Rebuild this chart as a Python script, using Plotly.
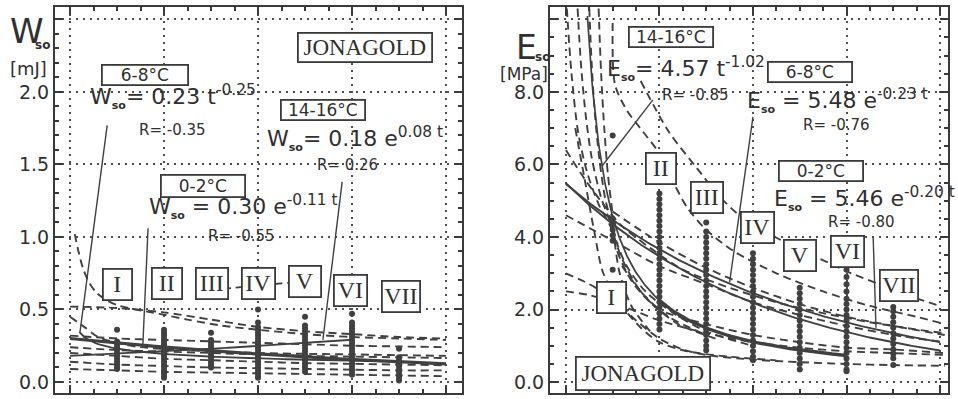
import numpy as np
import plotly.graph_objects as go

W, H = 958, 399
INK = "#404040"
TXT = "#303030"
SANS = "DejaVu Sans"
SERIF = "Liberation Serif"

# storage intervals
groups = ["I", "II", "III", "IV", "V", "VI", "VII"]
t_groups = [1, 2, 3, 4, 5, 6, 7]

# ---- W_so measurements [mJ] per interval ----
w_I = [0.36, 0.28, 0.26, 0.24, 0.22, 0.20, 0.18, 0.16, 0.14, 0.12, 0.10, 0.09]
w_II = [0.36, 0.34, 0.32, 0.30, 0.28, 0.26, 0.24, 0.22, 0.20, 0.18, 0.16, 0.14,
        0.12, 0.10, 0.08, 0.06, 0.04, 0.03]
w_III = [0.34, 0.29, 0.27, 0.25, 0.23, 0.21, 0.19, 0.17, 0.15, 0.13, 0.11, 0.10]
w_IV = [0.50, 0.41, 0.38, 0.36, 0.34, 0.32, 0.30, 0.28, 0.26, 0.24, 0.22, 0.20,
        0.18, 0.16, 0.14, 0.12, 0.10, 0.08, 0.06, 0.04, 0.03]
w_V = [0.45, 0.39, 0.37, 0.35, 0.33, 0.31, 0.29, 0.27, 0.25, 0.23, 0.21, 0.19,
       0.17, 0.15, 0.13, 0.11, 0.09, 0.07]
w_VI = [0.47, 0.41, 0.39, 0.37, 0.35, 0.33, 0.31, 0.29, 0.27, 0.25, 0.23, 0.21,
        0.19, 0.17, 0.15, 0.13, 0.11, 0.09, 0.07, 0.05]
w_VII = [0.23, 0.17, 0.15, 0.13, 0.11, 0.09, 0.07, 0.05, 0.03, 0.01]
w_points = [w_I, w_II, w_III, w_IV, w_V, w_VI, w_VII]

# ---- E_so measurements [MPa] per interval ----
e_I = [6.8, 4.5, 4.35, 4.2, 4.05, 3.9, 3.1]
e_II = [5.2, 5.05, 4.9, 4.75, 4.6, 4.45, 4.3, 4.15, 4.0, 3.85, 3.7, 3.55, 3.4,
        3.25, 3.1, 2.95, 2.8, 2.65, 2.5, 2.35, 2.2, 2.05, 1.9, 1.75, 1.6, 1.45]
e_III = [4.4, 4.15, 4.0, 3.85, 3.7, 3.55, 3.4, 3.25, 3.1, 2.95, 2.8, 2.65, 2.5,
         2.35, 2.2, 2.05, 1.9, 1.75, 1.6, 1.45, 1.3, 1.15, 1.0, 0.88]
e_IV = [3.55, 3.4, 3.25, 3.1, 2.95, 2.8, 2.65, 2.5, 2.35, 2.2, 2.05, 1.9, 1.75,
        1.6, 1.45, 1.3, 1.15, 1.0, 0.85, 0.7, 0.6]
e_V = [2.6, 2.45, 2.3, 2.15, 2.0, 1.85, 1.7, 1.55, 1.4, 1.25, 1.1, 0.95, 0.8,
       0.65, 0.5, 0.35]
e_VI = [3.1, 2.9, 2.7, 2.5, 2.3, 2.15, 2.0, 1.85, 1.7, 1.55, 1.4, 1.25, 1.1,
        0.95, 0.8, 0.65, 0.5, 0.35, 0.3]
e_VII = [2.07, 1.95, 1.8, 1.65, 1.5, 1.35, 1.2, 1.05, 0.9, 0.78, 0.66, 0.47]
e_points = [e_I, e_II, e_III, e_IV, e_V, e_VI, e_VII]

# ---- fitted models (coefficients as printed) ----
# W_so: 0-2 °C exponential, 6-8 °C power, 14-16 °C exponential
w_fit_02 = [0.30, -0.11]
w_fit_68 = [0.23, -0.25]
w_fit_1416 = [0.18, 0.08]
# E_so: 14-16 °C power, 6-8 °C exponential, 0-2 °C exponential
e_fit_1416 = [4.57, -1.02]
e_fit_68 = [5.48, -0.23]
e_fit_02 = [5.46, -0.20]

# ---- individual (per-sample) fitted curves, W_so ----
w_ind = [
    ([0.10, 0.18, 0.28, 0.40, 0.55, 0.75, 1.0, 1.4, 1.9, 2.5, 3.2, 4.0, 5.0, 6.0, 7.0, 8.0],
     [1.02, 0.90, 0.78, 0.69, 0.62, 0.57, 0.53, 0.50, 0.47, 0.43, 0.39, 0.36, 0.33, 0.31, 0.30, 0.29]),
    ([0, 1, 2, 3, 4, 5, 6, 7, 8],
     [0.52, 0.51, 0.48, 0.43, 0.38, 0.35, 0.33, 0.31, 0.30]),
    ([0, 1, 2, 3, 4, 5, 6, 7, 8],
     [0.32, 0.30, 0.29, 0.28, 0.27, 0.26, 0.25, 0.245, 0.24]),
    ([0, 0.3, 0.6, 1.0, 1.5, 2.5, 4, 6, 8],
     [0.45, 0.38, 0.31, 0.27, 0.24, 0.22, 0.20, 0.19, 0.18]),
    ([0, 1, 2, 3, 4, 5, 6, 7, 8],
     [0.24, 0.22, 0.21, 0.20, 0.19, 0.18, 0.175, 0.17, 0.165]),
    ([0, 1, 2, 3, 4, 5, 6, 7, 8],
     [0.20, 0.18, 0.16, 0.15, 0.14, 0.13, 0.125, 0.12, 0.115]),
    ([0, 1, 2, 3, 4, 5, 6, 7, 8],
     [0.14, 0.12, 0.11, 0.10, 0.095, 0.09, 0.085, 0.08, 0.08]),
    ([0, 1, 2, 3, 4, 5, 6, 7, 8],
     [0.09, 0.08, 0.07, 0.065, 0.06, 0.055, 0.05, 0.045, 0.04]),
    ([2.7, 3.5, 4.5, 5.4],
     [0.62, 0.65, 0.68, 0.70]),
]

# ---- individual (per-sample) fitted curves, E_so ----
e_ind = [
    ([1.6, 2.2, 2.8, 3.3, 3.8, 4.4, 5.0, 5.6, 6.1, 6.7, 7.4, 8.0],
     [8.3, 6.9, 5.9, 5.1, 4.5, 4.05, 3.65, 3.3, 3.0, 2.7, 2.35, 2.1]),
    ([1.0, 1.05, 1.3, 1.65, 2.0, 2.3, 2.6, 3.0, 3.6, 4.5, 5.5, 6.5, 7.5, 8.1],
     [9.9, 8.2, 7.5, 6.9, 6.3, 5.5, 4.8, 4.2, 3.6, 3.0, 2.5, 2.1, 1.8, 1.6]),
    ([0.02, 0.12, 0.26, 0.45, 0.7, 0.95, 1.2, 1.6, 2.2, 3.0],
     [10.3, 8.5, 6.9, 5.8, 4.9, 4.3, 3.4, 2.5, 1.8, 1.3]),
    ([0.25, 0.32, 0.42, 0.55, 0.75, 0.95, 1.1, 1.4, 1.8, 2.4, 3.2],
     [10.3, 8.8, 7.4, 6.2, 5.1, 4.4, 3.6, 2.8, 2.2, 1.6, 1.2]),
    ([0.5, 0.55, 0.62, 0.72, 0.85, 1.0, 1.1, 1.3, 1.7, 2.3, 3.0, 4.0],
     [10.3, 8.8, 7.4, 6.1, 5.0, 4.3, 3.8, 3.2, 2.5, 1.9, 1.4, 1.0]),
    ([0.7, 0.75, 0.82, 0.9, 1.0, 1.05, 1.15, 1.4, 1.8],
     [10.3, 8.6, 7.0, 5.7, 4.6, 3.8, 3.0, 2.1, 1.4]),
    ([0, 0.4, 0.8, 1.2, 1.8, 2.5, 3.5, 4.5, 5.5, 6.5, 7.5, 8.1],
     [6.4, 5.6, 4.9, 4.3, 3.7, 3.1, 2.6, 2.2, 1.9, 1.65, 1.45, 1.35]),
    ([0, 1, 2, 3, 4, 5, 6, 7, 8.1],
     [4.6, 3.9, 3.2, 2.7, 2.2, 1.85, 1.55, 1.3, 1.1]),
    ([0, 0.5, 1, 1.5, 2, 2.5, 3, 4, 5, 6, 7, 8.1],
     [3.0, 2.7, 2.3, 1.7, 1.2, 0.9, 0.75, 0.62, 0.55, 0.5, 0.47, 0.45]),
    ([0, 0.5, 1.0, 1.5, 2.0, 3.0, 4.0, 5.0, 6.0, 7.0, 8.1],
     [2.5, 2.4, 2.2, 1.95, 1.7, 1.35, 1.1, 0.95, 0.85, 0.8, 0.75]),
    ([1.2, 1.6, 2, 3, 4, 5, 6, 7, 8.1],
     [3.2, 2.5, 2.0, 1.6, 1.3, 1.1, 0.95, 0.9, 0.8]),
    ([0.2, 0.4, 0.6, 0.8, 1.2, 1.6, 2.0, 2.6, 3.5, 4.5],
     [7.0, 5.6, 4.2, 3.0, 2.1, 1.5, 1.1, 0.85, 0.7, 0.6]),
    ([1, 2, 3, 4, 5, 6, 7, 8.1],
     [4.7, 3.85, 3.15, 2.6, 2.15, 1.8, 1.55, 1.3]),
]

fig = go.Figure()

DASH = "8px,5px"


def add_dashed(curves, xa, ya):
    for tt, vv in curves:
        fig.add_trace(go.Scatter(x=tt, y=vv, mode="lines", xaxis=xa, yaxis=ya,
                                 line=dict(color=INK, width=1.9, dash=DASH,
                                           shape="spline", smoothing=0.8),
                                 hoverinfo="skip", showlegend=False))


def add_solid(t, v, xa, ya, width=1.9):
    fig.add_trace(go.Scatter(x=t, y=v, mode="lines", xaxis=xa, yaxis=ya,
                             line=dict(color=INK, width=width),
                             hoverinfo="skip", showlegend=False))


def add_points(pts, xa, ya):
    for tg, vals in zip(t_groups, pts):
        fig.add_trace(go.Scatter(x=[tg] * len(vals), y=vals, mode="markers",
                                 xaxis=xa, yaxis=ya,
                                 marker=dict(color=INK, size=6),
                                 hoverinfo="skip", showlegend=False))


# ---------------- left panel: W_so ----------------
add_dashed(w_ind, "x", "y")
t = np.linspace(0, 8, 120)
add_solid(t, w_fit_02[0] * np.exp(w_fit_02[1] * t), "x", "y", 3.2)
t = np.linspace(0.2, 7, 120)
add_solid(t, w_fit_68[0] * t ** w_fit_68[1], "x", "y")
t = np.linspace(0, 6, 120)
add_solid(t, w_fit_1416[0] * np.exp(w_fit_1416[1] * t), "x", "y")
add_points(w_points, "x", "y")

# ---------------- right panel: E_so ----------------
add_dashed(e_ind, "x2", "y2")
t = np.linspace(0, 8, 120)
add_solid(t, e_fit_02[0] * np.exp(e_fit_02[1] * t), "x2", "y2")
add_solid(t, e_fit_68[0] * np.exp(e_fit_68[1] * t), "x2", "y2")
t = np.linspace(0.46, 2, 80)
add_solid(t, e_fit_1416[0] * t ** e_fit_1416[1], "x2", "y2", 1.7)
t = np.linspace(2, 6, 80)
add_solid(t, e_fit_1416[0] * t ** e_fit_1416[1], "x2", "y2", 3.4)
add_points(e_points, "x2", "y2")


# ---------------- axes ----------------
def px(x):
    return x / W


def py(y):
    return 1 - y / H


FRAME = "#3a3a3a"
common = dict(showline=True, linewidth=2.2, linecolor=FRAME, mirror="ticks",
              ticks="inside", tickcolor=FRAME, tickwidth=1.6, ticklen=8,
              showgrid=True, gridcolor="#4f4f4f", gridwidth=1.7,
              griddash="2px,5px", zeroline=False,
              tickfont=dict(family=SANS, size=19, color=TXT))


def minor(step):
    return dict(tickmode="linear", tick0=0, dtick=step, ticks="inside",
                ticklen=4, tickcolor=FRAME, showgrid=False)


fig.update_layout(
    width=W, height=H, margin=dict(l=0, r=0, t=0, b=0),
    paper_bgcolor="white", plot_bgcolor="white", showlegend=False,
    xaxis=dict(domain=[px(55), px(462)], range=[-0.32, 8.34], anchor="y",
               tickvals=[0, 2, 4, 6, 8], showticklabels=False,
               minor=minor(0.5), **common),
    yaxis=dict(domain=[py(393), py(7)], range=[-0.076, 2.586], anchor="x",
               tickvals=[0, 0.5, 1.0, 1.5, 2.0, 2.5],
               ticktext=["0.0", "0.5", "1.0", "1.5", "2.0", ""],
               minor=minor(0.1), **common),
    xaxis2=dict(domain=[px(550), px(948)], range=[-0.34, 8.17], anchor="y2",
                tickvals=[0, 2, 4, 6, 8], showticklabels=False,
                minor=minor(0.5), **common),
    yaxis2=dict(domain=[py(393), py(7)], range=[-0.30, 10.34], anchor="x2",
                tickvals=[0, 2, 4, 6, 8, 10],
                ticktext=["0.0", "2.0", "4.0", "6.0", "8.0", ""],
                minor=minor(0.5), **common),
)

# ---------------- callout lines ----------------
callouts = [
    ("x", "y", 0.79, 1.77, 0.21, 0.34),
    ("x", "y", 1.66, 1.06, 1.55, 0.26),
    ("x", "y", 5.79, 1.38, 5.38, 0.29),
    ("x2", "y2", 1.86, 7.78, 0.77, 5.95),
    ("x2", "y2", 4.0, 7.31, 3.5, 2.75),
    ("x2", "y2", 6.57, 4.0, 6.63, 1.5),
]
for xr, yr, x0, y0, x1, y1 in callouts:
    fig.add_shape(type="line", xref=xr, yref=yr, x0=x0, y0=y0, x1=x1, y1=y1,
                  line=dict(color=INK, width=1.4))

annotations = []


def text_at(x, y, text, size, family=SANS, xanchor="center", yanchor="middle",
            box=None):
    a = dict(x=px(x), y=py(y), xref="paper", yref="paper", text=text,
             showarrow=False, xanchor=xanchor, yanchor=yanchor,
             font=dict(family=family, size=size, color=TXT))
    if box is not None:
        a.update(bordercolor=FRAME, borderwidth=1.8, borderpad=1,
                 bgcolor="white", width=box[0], height=box[1])
    annotations.append(a)


SO = "<sub><span style='font-size:11px'><b>so</b></span></sub>"

# roman numeral boxes (data coordinates)
w_label_pos = [(1.0, 0.67), (2.06, 0.68), (3.02, 0.68), (4.02, 0.68),
               (5.0, 0.69), (5.96, 0.63), (7.04, 0.59)]
e_label_pos = [(0.98, 2.34), (2.03, 5.88), (3.02, 5.08), (4.1, 4.25),
               (5.0, 3.48), (6.02, 3.59), (7.12, 2.65)]
box_w = [25, 26, 28, 29, 28, 29, 34]
for (xr, yr, pos) in (("x", "y", w_label_pos), ("x2", "y2", e_label_pos)):
    for g, (lx, ly), bw in zip(groups, pos, box_w):
        annotations.append(dict(x=lx, y=ly, xref=xr, yref=yr, text=g,
                                showarrow=False,
                                font=dict(family=SERIF, size=24, color=TXT),
                                bordercolor=FRAME, borderwidth=1.8,
                                borderpad=1, bgcolor="white", width=bw,
                                height=27))

# left panel texts
text_at(27, 31, "W", 34)
text_at(42, 45, "<b>so</b>", 12)
text_at(28, 69, "[mJ]", 18)
text_at(365, 47, "JONAGOLD", 23, SERIF, box=(130, 25))
text_at(145, 75, "6-8°C", 17, box=(82, 16))
text_at(88, 96, "W" + SO + "= 0.23 t<sup>-0.25</sup>", 22, xanchor="left")
text_at(172, 130, "R= -0.35", 15)
text_at(323, 110, "14-16°C", 17, box=(80, 16))
text_at(265, 138, "W" + SO + "= 0.18 e<sup>0.08 t</sup>", 22, xanchor="left")
text_at(347, 165, "R= 0.26", 15)
text_at(203, 186, "0-2°C", 17, box=(80, 18))
text_at(147, 206, "W" + SO + " = 0.30 e<sup>-0.11 t</sup>", 22, xanchor="left")
text_at(242, 236, "R= -0.55", 15)

# right panel texts
text_at(526, 47, "E", 33)
text_at(542, 57, "<b>so</b>", 12)
text_at(524, 74, "[MPa]", 17)
text_at(671, 37, "14-16°C", 17, box=(80, 16))
text_at(605, 68, "E" + SO + "= 4.57 t<sup>-1.02</sup>", 22, xanchor="left")
text_at(695, 95, "R= -0.85", 15)
text_at(810, 72, "6-8°C", 17, box=(80, 16))
text_at(745, 101, "E" + SO + " = 5.48 e<sup>-0.23 t</sup>", 22, xanchor="left")
text_at(836, 125, "R= -0.76", 15)
text_at(821, 171, "0-2°C", 17, box=(80, 16))
text_at(772, 198, "E" + SO + " = 5.46 e<sup>-0.20 t</sup>", 22, xanchor="left")
text_at(861, 222, "R= -0.80", 15)
text_at(643, 373, "JONAGOLD", 23, SERIF, box=(130, 29))

fig.update_layout(annotations=annotations)

fig.write_html("out.html")
